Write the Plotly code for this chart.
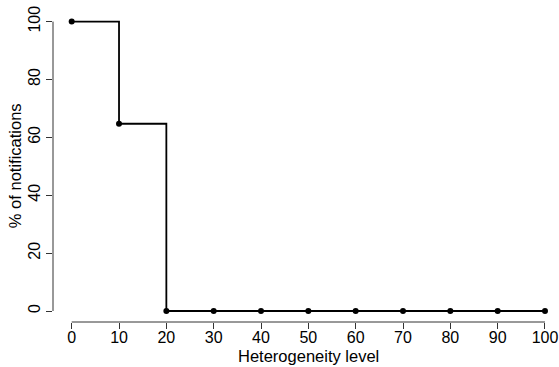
import plotly.graph_objects as go

heterogeneity = [0, 10, 20, 30, 40, 50, 60, 70, 80, 90, 100]
pct_notifications = [100, 64.7, 0, 0, 0, 0, 0, 0, 0, 0, 0]
x_ticks = [0, 10, 20, 30, 40, 50, 60, 70, 80, 90, 100]
y_ticks = [0, 20, 40, 60, 80, 100]
x_title = "Heterogeneity level"
y_title = "% of notifications"

FONT = "Liberation Sans, Arial, Helvetica, sans-serif"
AXC = "#333333"

fig = go.Figure()
fig.add_trace(go.Scatter(
    x=heterogeneity, y=pct_notifications,
    mode="lines+markers", line_shape="hv",
    line=dict(color="black", width=1.8),
    marker=dict(color="black", size=6),
    showlegend=False, hoverinfo="skip",
))

fig.update_layout(
    width=559, height=367,
    margin=dict(l=53, r=0, t=10, b=45, autoexpand=False),
    paper_bgcolor="white", plot_bgcolor="white",
    font=dict(family=FONT, size=16, color="black"),
    xaxis=dict(
        range=[-3.95, 102.96], tickvals=x_ticks, ticktext=[str(v) for v in x_ticks],
        ticks="outside", ticklen=6, tickwidth=1, tickcolor=AXC,
        ticklabelstandoff=-5,
        showgrid=False, zeroline=False, showline=False, automargin=False,
        tickfont=dict(size=16),
    ),
    yaxis=dict(
        range=[-3.8, 104.0], tickvals=y_ticks, ticktext=[str(v) for v in y_ticks],
        ticks="outside", ticklen=6, tickwidth=1, tickcolor=AXC,
        tickangle=-90,
        showgrid=False, zeroline=False, showline=False, automargin=False,
        tickfont=dict(size=16),
    ),
    shapes=[
        dict(type="line", xref="x", yref="paper", x0=min(x_ticks), x1=max(x_ticks),
             y0=0, y1=0, line=dict(color=AXC, width=1)),
        dict(type="line", xref="paper", yref="y", x0=0, x1=0,
             y0=min(y_ticks), y1=max(y_ticks), line=dict(color=AXC, width=1)),
    ],
    annotations=[
        dict(text=x_title, xref="x", x=(min(x_ticks) + max(x_ticks)) / 2,
             yref="paper", y=-0.109, xanchor="center", yanchor="middle",
             showarrow=False, font=dict(size=16.5)),
        dict(text=y_title, xref="paper", x=-0.0748, yref="paper", y=0.5,
             xanchor="center", yanchor="middle", textangle=-90,
             showarrow=False, font=dict(size=16.5)),
    ],
)

fig.write_html(
    "out.html",
    config={"displayModeBar": False, "staticPlot": True},
    post_script="document.body.style.margin='0';document.body.style.padding='0';",
)
